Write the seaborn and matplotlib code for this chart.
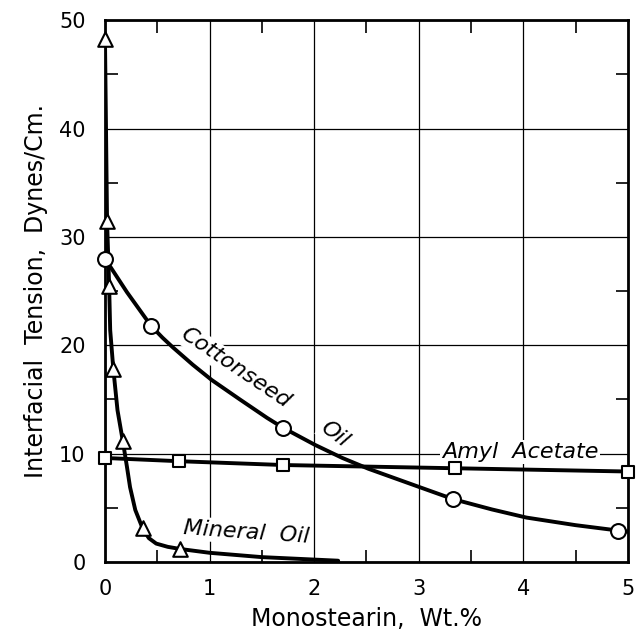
import matplotlib
matplotlib.use("Agg")
import matplotlib.pyplot as plt
import seaborn as sns
from matplotlib.ticker import MultipleLocator

# ---- data ----
# Mineral oil (triangles)
mineral_mx = [0.0, 0.02, 0.04, 0.08, 0.17, 0.36, 0.72]
mineral_my = [48.3, 31.5, 25.5, 17.8, 11.2, 3.1, 1.2]
mineral_cx = [0.0, 0.01, 0.02, 0.04, 0.05, 0.08, 0.12, 0.17, 0.21, 0.24, 0.29, 0.36,
              0.42, 0.49, 0.60, 0.72, 1.0, 1.5, 2.23]
mineral_cy = [48.3, 40.0, 31.5, 25.5, 21.4, 17.8, 14.0, 11.2, 8.8, 6.9, 4.8, 3.1,
              2.2, 1.7, 1.4, 1.2, 0.85, 0.45, 0.12]

# Cottonseed oil (circles)
cotton_mx = [0.0, 0.44, 1.70, 3.33, 4.91]
cotton_my = [28.0, 21.8, 12.4, 5.8, 2.9]
cotton_cx = [0.0, 0.21, 0.44, 0.55, 0.65, 0.84, 1.02, 1.29, 1.55, 1.70, 2.01, 2.27,
             2.52, 3.04, 3.33, 3.7, 4.03, 4.5, 4.91, 5.0]
cotton_cy = [28.0, 24.9, 21.8, 20.7, 19.8, 18.2, 16.8, 15.0, 13.3, 12.4, 10.8, 9.6,
             8.6, 6.8, 5.8, 4.85, 4.1, 3.4, 2.9, 2.8]

# Amyl acetate (squares)
amyl_mx = [0.0, 0.71, 1.70, 3.35, 5.0]
amyl_my = [9.6, 9.3, 8.95, 8.65, 8.35]

x_ticks = [0, 1, 2, 3, 4, 5]
x_tick_labels = ["0", "1", "2", "3", "4", "5"]
y_ticks = [0, 10, 20, 30, 40, 50]
y_tick_labels = ["0", "10", "20", "30", "40", "50"]

sns.set_theme(style="white")
plt.rcParams['font.family'] = ['DejaVu Sans']
plt.rcParams['text.color'] = 'black'

fig = plt.figure(figsize=(6.4, 6.39), dpi=100)
ax = fig.add_axes([0.164, 0.1205, 0.817, 0.848])

lw = 2.8
for cx, cy in [(mineral_cx, mineral_cy), (cotton_cx, cotton_cy), (amyl_mx, amyl_my)]:
    sns.lineplot(x=cx, y=cy, ax=ax, color="black", lw=lw, sort=False,
                 estimator=None, zorder=3)

for xs, ys, mk, sz in [(mineral_mx, mineral_my, "^", 110),
                       (cotton_mx, cotton_my, "o", 115),
                       (amyl_mx, amyl_my, "s", 85)]:
    sns.scatterplot(x=xs, y=ys, ax=ax, marker=mk, s=sz, facecolor="white",
                    edgecolor="black", linewidth=1.5, zorder=4)
for coll in ax.collections:
    coll.set_clip_on(False)

ax.set_xlim(0, 5)
ax.set_ylim(0, 50)
ax.set_xticks(x_ticks)
ax.set_xticklabels(x_tick_labels)
ax.set_yticks(y_ticks)
ax.set_yticklabels(y_tick_labels)
ax.xaxis.set_minor_locator(MultipleLocator(0.5))
ax.yaxis.set_minor_locator(MultipleLocator(5))
ax.tick_params(which="major", length=0, labelsize=15, pad=12, colors="black")
ax.tick_params(axis="y", which="major", pad=14)
ax.tick_params(which="minor", direction="in", length=9, width=1.2, color="black",
               top=True, right=True, bottom=True, left=True)
ax.grid(True, which="major", color="black", lw=0.9, zorder=0)
ax.set_axisbelow(True)
for sp in ax.spines.values():
    sp.set_visible(True)
    sp.set_color("black")
    sp.set_linewidth(2)

ax.set_xlabel("Monostearin,  Wt.%", fontsize=17, labelpad=6, color="black")
ax.set_ylabel("Interfacial  Tension,  Dynes/Cm.", fontsize=17, labelpad=8, color="black")

box = dict(facecolor="white", edgecolor="none", pad=1.5)
ax.text(1.25, 17.9, "Cottonseed", rotation=-34, fontsize=16, style="italic",
        color="black", ha="center", va="center", bbox=box, zorder=2,
        rotation_mode="anchor")
ax.text(2.2, 11.8, "Oil", rotation=-37, fontsize=16, style="italic",
        color="black", ha="center", va="center", bbox=box, zorder=2,
        rotation_mode="anchor")
ax.text(3.97, 10.15, "Amyl  Acetate", fontsize=16, style="italic",
        color="black", ha="center", va="center", bbox=box, zorder=2)
ax.text(1.35, 2.75, "Mineral  Oil", rotation=-4, fontsize=16, style="italic",
        color="black", ha="center", va="center", bbox=box, zorder=2,
        rotation_mode="anchor")

fig.savefig("out.png", dpi=100, facecolor="white")
